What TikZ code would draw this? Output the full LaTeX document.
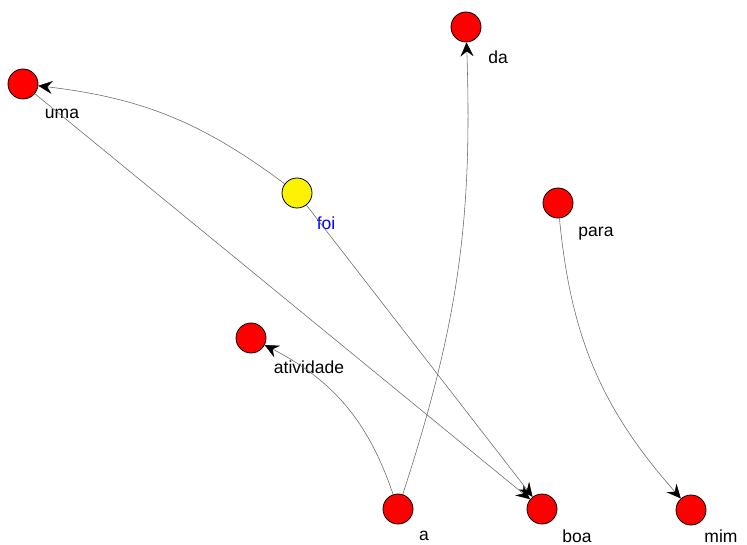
\documentclass[tikz,border=0pt]{standalone}
\usepackage{fontspec}
\setmainfont{Liberation Sans}
\usetikzlibrary{arrows.meta}
\begin{document}
\begin{tikzpicture}[x=1pt,y=-1pt,
  vert/.style={circle,draw=black,line width=0.8pt,fill=red,minimum size=30pt,inner sep=0pt},
  vfoi/.style={vert,fill=yellow},
  lbl/.style={font=\fontsize{17.5}{19}\selectfont,inner sep=0pt,text=black},
  edge/.style={draw=black!60,line width=0.55pt,-{Stealth[length=14pt,width=13pt,inset=5pt,color=black]}}]
\useasboundingbox (0,0) rectangle (747,545);
\node[vert] (uma) at (23,84) {};
\node[vert] (da) at (466,27) {};
\node[vfoi] (foi) at (297,193) {};
\node[vert] (para) at (558,203) {};
\node[vert] (atividade) at (251,338) {};
\node[vert] (a) at (398,509) {};
\node[vert] (boa) at (542,509) {};
\node[vert] (mim) at (691,510) {};
\node[lbl] (luma) at (62,114) {uma};
\node[lbl] (lda) at (498,57) {da};
\node[lbl,text=blue] (lfoi) at (326,223) {foi};
\node[lbl] (lpara) at (596,234) {para};
\node[lbl] (latividade) at (309,367) {atividade};
\node[lbl] (la) at (424,536) {a};
\node[lbl] (lboa) at (577,536) {boa};
\node[lbl] (lmim) at (721,536) {mim};
\draw[edge] (foi) to[bend right=15] (uma);
\draw[edge] (foi) to (boa);
\draw[edge] (uma) to (boa);
\draw[edge] (a) to[bend right=10] (da);
\draw[edge] (a) to[bend right=22] (atividade);
\draw[edge] (para) to[bend right=18] (mim);
\end{tikzpicture}
\end{document}
